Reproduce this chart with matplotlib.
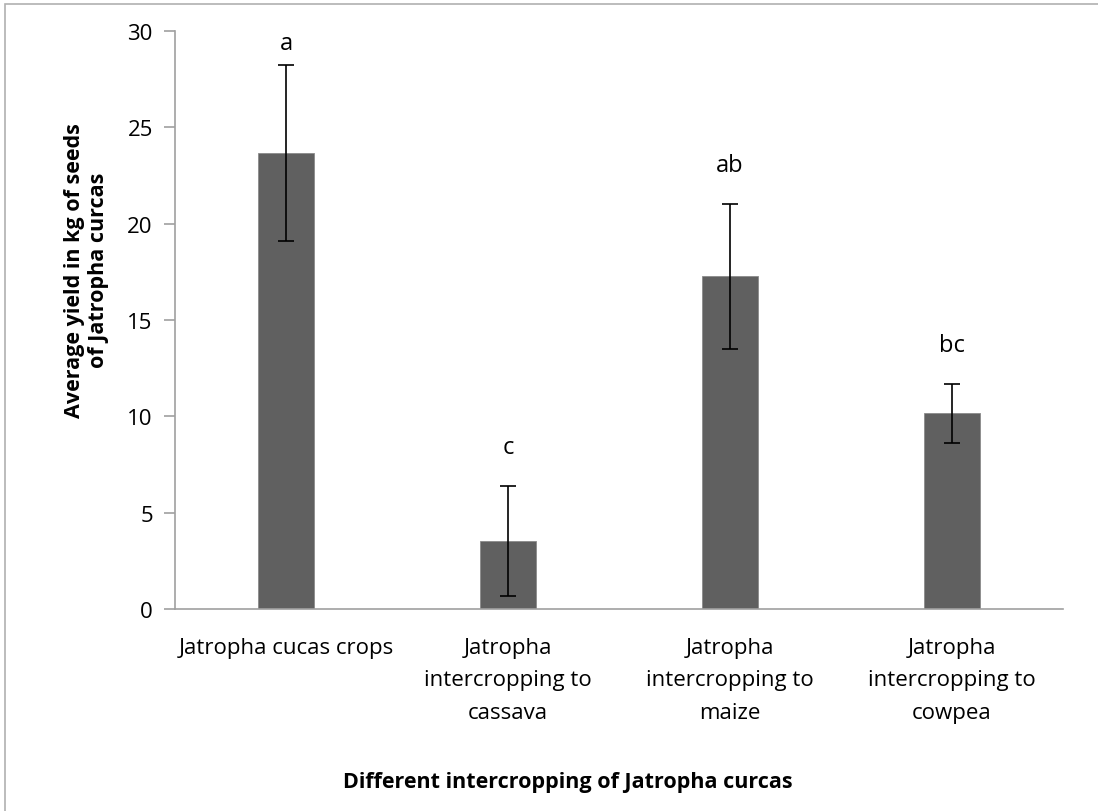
import matplotlib as mpl; mpl.use('agg')
import matplotlib.pyplot as plt
from matplotlib.patches import Rectangle

# values
categories = ['Jatropha cucas crops', 'Jatropha\nintercropping to\ncassava',
              'Jatropha\nintercropping to\nmaize', 'Jatropha\nintercropping to\ncowpea']
means = [23.66, 3.54, 17.26, 10.15]
errors = [4.56, 2.87, 3.76, 1.55]
letters = ['a', 'c', 'ab', 'bc']

plt.rcParams['font.family'] = ['Open Sans', 'DejaVu Sans']

fig = plt.figure(figsize=(10.98, 8.12), dpi=100)
ax = fig.add_axes([175/1098, 1 - 610/812, 888/1098, 578/812])

# outer chart frame (only left and top visible in the reference)
fig.patches.append(Rectangle((5/1098, -0.1), 1.2, 1 - 5/812 + 0.1, transform=fig.transFigure,
                             fill=False, edgecolor='#b0b0b0', linewidth=1.2))

x = range(len(categories))
ax.bar(x, means, width=0.25, color='#606060', edgecolor='#8a8a8a', linewidth=0.6, zorder=2)
ax.errorbar(x, means, yerr=errors, fmt='none', ecolor='black', elinewidth=1.2,
            capsize=6, capthick=1.2, zorder=3)

for i, (m, e, lab) in enumerate(zip(means, errors, letters)):
    y = min(m + e + 2.0, 29.4)
    ax.text(i, y, lab, ha='center', va='center', fontsize=17)

ax.set_xlim(-0.5, len(categories) - 0.5)
ax.set_ylim(0, 30)
ax.set_yticks(range(0, 31, 5))
ax.set_xticks(list(x))
ax.set_xticklabels(categories, fontsize=16, linespacing=1.72)
ax.tick_params(axis='y', labelsize=16, length=8, color='#a0a0a0', width=1.2, pad=8)
ax.tick_params(axis='x', length=0, pad=20)
for s in ['top', 'right']:
    ax.spines[s].set_visible(False)
for s in ['left', 'bottom']:
    ax.spines[s].set_color('#a0a0a0')
    ax.spines[s].set_linewidth(1.2)

ax.set_ylabel('Average yield in kg of seeds\nof Jatropha curcas', fontsize=15.5,
              fontweight='bold', linespacing=1.2)
ax.yaxis.set_label_coords(-0.074, 0.587)
fig.text(568/1098, 1 - 783/812, 'Different intercropping of Jatropha curcas',
         ha='center', va='center', fontsize=15.5, fontweight='bold')

plt.savefig('out.png', dpi=100)
